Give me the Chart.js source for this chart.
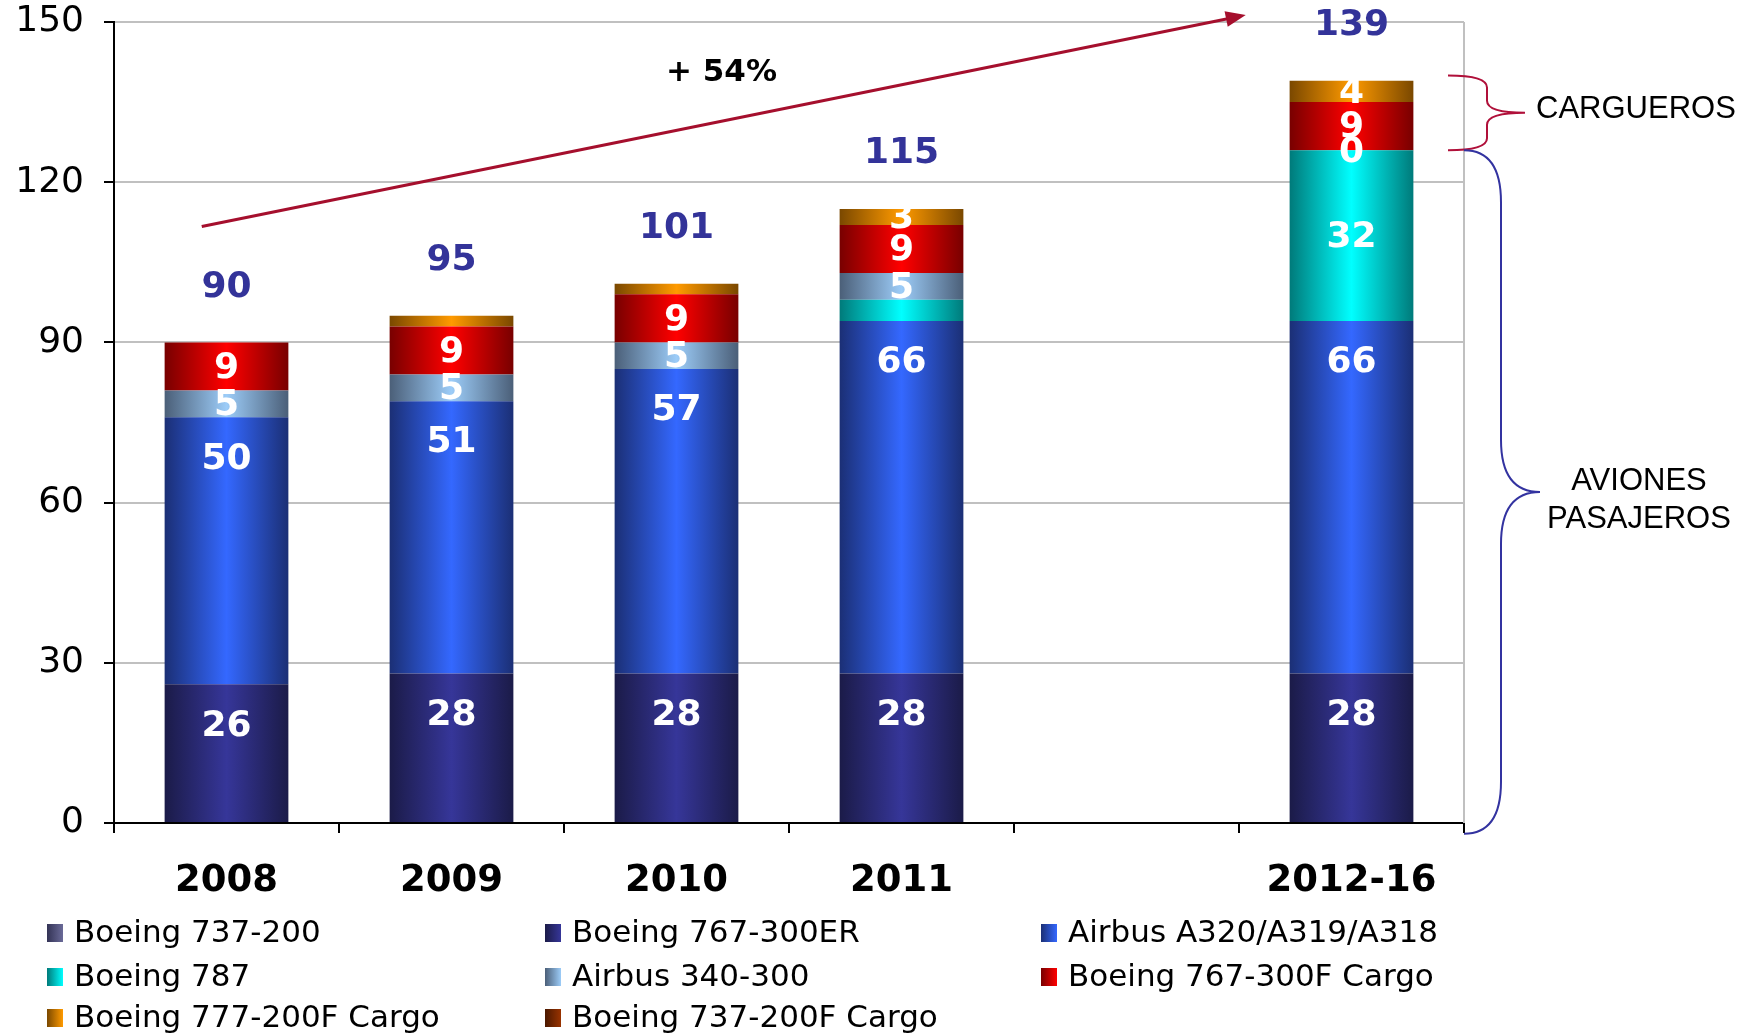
<!DOCTYPE html>
<html>
<head>
<meta charset="utf-8">
<script src="https://cdn.jsdelivr.net/npm/chart.js@4.4.0/dist/chart.umd.min.js"></script>
<style>
html, body { margin: 0; padding: 0; background: #fff; }
#wrap { width: 1755px; height: 1035px; }
</style>
</head>
<body>
<div id="wrap"><canvas id="myChart" width="1755" height="1035"></canvas></div>
<script>
// categorías (la quinta está vacía para dejar el hueco antes de 2012-16)
const categories = ['2008', '2009', '2010', '2011', '', '2012-16'];

// aviones por tipo
const b737_200 = [0, 0, 0, 0, null, 0];
const b767_300er = [26, 28, 28, 28, null, 28];
const a320 = [50, 51, 57, 66, null, 66];
const b787 = [0, 0, 0, 4, null, 32];
const a340 = [5, 5, 5, 5, null, 0];
const b767f = [9, 9, 9, 9, null, 9];
const b777f = [0, 2, 2, 3, null, 4];
const b737f = [0, 0, 0, 0, null, 0];

const yTicks = [0, 30, 60, 90, 120, 150];
const growthText = '+ 54%';

// degradado horizontal: oscuro en los bordes, claro en el centro
function barGradient(edge, mid) {
    return function (c) {
        const chart = c.chart;
        const area = chart.chartArea;
        if (!area || c.type !== 'data') return mid;
        const x = chart.scales.x.getPixelForValue(c.dataIndex);
        const half = (area.right - area.left) / categories.length * 0.55 / 2;
        const g = chart.ctx.createLinearGradient(x - half, 0, x + half, 0);
        g.addColorStop(0, edge);
        g.addColorStop(0.5, mid);
        g.addColorStop(1, edge);
        return g;
    };
}

function makeSet(label, data, edge, mid, showIf, anchor) {
    return {
        label, data,
        backgroundColor: barGradient(edge, mid),
        edgeColor: edge, midColor: mid,
        showIf, anchor,
        borderWidth: 0
    };
}

const datasets = [
    makeSet('Boeing 737-200', b737_200, '#333355', '#6a6a98', v => false, 'center'),
    makeSet('Boeing 767-300ER', b767_300er, '#1b1b48', '#363699', v => v >= 3, 'top'),
    makeSet('Airbus A320/A319/A318', a320, '#1b2f75', '#3468ff', v => v >= 3, 'top'),
    makeSet('Boeing 787', b787, '#007a7a', '#00ffff', v => v >= 10, 'center'),
    makeSet('Airbus 340-300', a340, '#4b5f78', '#9cccf8', v => v !== null, 'center'),
    makeSet('Boeing 767-300F Cargo', b767f, '#780000', '#ff0000', v => v >= 3, 'center'),
    makeSet('Boeing 777-200F Cargo', b777f, '#7a4800', '#ff9a00', v => v >= 3, 'center'),
    makeSet('Boeing 737-200F Cargo', b737f, '#4a1800', '#993300', v => false, 'center')
];

function drawBrace(ctx, xEnd, yTop, yBot, xSpine, xTip, r, color) {
    const yTip = (yTop + yBot) / 2;
    ctx.save();
    ctx.strokeStyle = color;
    ctx.lineWidth = 2;
    ctx.beginPath();
    ctx.moveTo(xEnd, yTop);
    ctx.quadraticCurveTo(xSpine, yTop, xSpine, yTop + r);
    ctx.lineTo(xSpine, yTip - r);
    ctx.quadraticCurveTo(xSpine, yTip, xTip, yTip);
    ctx.moveTo(xTip, yTip);
    ctx.quadraticCurveTo(xSpine, yTip, xSpine, yTip + r);
    ctx.lineTo(xSpine, yBot - r);
    ctx.quadraticCurveTo(xSpine, yBot, xEnd, yBot);
    ctx.stroke();
    ctx.restore();
}

const extras = {
    id: 'extras',
    beforeDatasetsDraw(chart) {
        const { ctx, chartArea } = chart;
        // borde derecho gris del área
        ctx.save();
        ctx.strokeStyle = '#c0c0c0';
        ctx.lineWidth = 2;
        ctx.beginPath();
        ctx.moveTo(chartArea.right, chartArea.top);
        ctx.lineTo(chartArea.right, chartArea.bottom);
        ctx.stroke();
        ctx.restore();
    },
    afterDatasetsDraw(chart) {
        const { ctx, chartArea } = chart;
        const xs = chart.scales.x, ys = chart.scales.y;

        // valores dentro de las barras
        ctx.save();
        ctx.fillStyle = '#fff';
        ctx.font = 'bold 36px "DejaVu Sans"';
        ctx.textAlign = 'center';
        ctx.textBaseline = 'middle';
        chart.data.datasets.forEach((ds, i) => {
            chart.getDatasetMeta(i).data.forEach((bar, j) => {
                const v = ds.data[j];
                if (v === null || !ds.showIf(v)) return;
                let y = (bar.y + bar.base) / 2;
                if (ds.anchor === 'top') y = Math.min(y, bar.y + 40);
                ctx.fillText(String(v), bar.x, y + 2);
            });
        });

        // totales encima de cada barra
        ctx.fillStyle = '#333399';
        categories.forEach((c, j) => {
            let sum = 0, any = false;
            chart.data.datasets.forEach(ds => {
                if (ds.data[j] !== null) { sum += ds.data[j]; any = true; }
            });
            if (!any) return;
            ctx.fillText(String(sum), xs.getPixelForValue(j), ys.getPixelForValue(sum) - 55);
        });
        ctx.restore();

        // flecha de crecimiento
        const x0 = xs.getPixelForValue(-0.11), y0 = ys.getPixelForValue(111.7);
        const x1 = xs.getPixelForValue(4.53), y1 = ys.getPixelForValue(151.3);
        const ang = Math.atan2(y1 - y0, x1 - x0);
        ctx.save();
        ctx.strokeStyle = '#a50f2d';
        ctx.fillStyle = '#a50f2d';
        ctx.lineWidth = 3;
        ctx.beginPath();
        ctx.moveTo(x0, y0);
        ctx.lineTo(x1 - 16 * Math.cos(ang), y1 - 16 * Math.sin(ang));
        ctx.stroke();
        ctx.beginPath();
        ctx.moveTo(x1, y1);
        ctx.lineTo(x1 - 20 * Math.cos(ang) + 8 * Math.sin(ang), y1 - 20 * Math.sin(ang) - 8 * Math.cos(ang));
        ctx.lineTo(x1 - 20 * Math.cos(ang) - 8 * Math.sin(ang), y1 - 20 * Math.sin(ang) + 8 * Math.cos(ang));
        ctx.closePath();
        ctx.fill();
        ctx.fillStyle = '#000';
        ctx.font = 'bold 31px "DejaVu Sans"';
        ctx.textAlign = 'center';
        ctx.textBaseline = 'middle';
        ctx.fillText(growthText, xs.getPixelForValue(2.2), ys.getPixelForValue(140.4));
        ctx.restore();

        // llaves de la derecha
        const right = chartArea.right;
        const yCargoTop = ys.getPixelForValue(140), yCargoBot = ys.getPixelForValue(126);
        drawBrace(ctx, right - 16, yCargoTop, yCargoBot, right + 23, right + 61, 12, '#b0103a');
        drawBrace(ctx, right, yCargoBot, ys.getPixelForValue(-2), right + 37, right + 76, 52, '#3333a0');

        ctx.save();
        ctx.fillStyle = '#000';
        ctx.font = '31px "Liberation Sans"';
        ctx.textAlign = 'left';
        ctx.textBaseline = 'middle';
        ctx.fillText('CARGUEROS', right + 72, (yCargoTop + yCargoBot) / 2 - 3);
        ctx.textAlign = 'center';
        const yMid = (yCargoBot + ys.getPixelForValue(-2)) / 2;
        ctx.fillText('AVIONES', right + 175, yMid - 10);
        ctx.fillText('PASAJEROS', right + 175, yMid + 28);
        ctx.restore();

        // leyenda en tres columnas
        const cols = [47, 545, 1041];
        const rows = [933, 977, 1018];
        ctx.save();
        ctx.font = '31px "DejaVu Sans"';
        ctx.textAlign = 'left';
        ctx.textBaseline = 'middle';
        chart.data.datasets.forEach((ds, i) => {
            const x = cols[i % 3], y = rows[Math.floor(i / 3)];
            const g = ctx.createLinearGradient(x, 0, x + 16, 0);
            g.addColorStop(0, ds.edgeColor);
            g.addColorStop(1, ds.midColor);
            ctx.fillStyle = g;
            ctx.fillRect(x, y - 9, 16, 18);
            ctx.fillStyle = '#000';
            ctx.fillText(ds.label, x + 27, y + 1);
        });
        ctx.restore();
    }
};

const ctx = document.querySelector('#myChart').getContext('2d');
const chart = new Chart(ctx, {
    type: 'bar',
    data: { labels: categories, datasets },
    options: {
        responsive: false,
        animation: false,
        layout: { padding: { left: 0, top: 22, right: 291, bottom: 0 } },
        datasets: { bar: { categoryPercentage: 1, barPercentage: 0.55 } },
        scales: {
            x: {
                stacked: true,
                grid: { offset: true, drawOnChartArea: false, color: '#000', tickLength: 10, lineWidth: 2 },
                border: { color: '#000', width: 2 },
                ticks: { color: '#000', font: { family: 'DejaVu Sans', size: 37, weight: 'bold' }, padding: 26, maxRotation: 0 },
                afterFit: s => { s.height = 212; s.paddingLeft = 0; s.paddingRight = 0; }
            },
            y: {
                stacked: true,
                min: 0, max: 150,
                afterBuildTicks: s => { s.ticks = yTicks.map(v => ({ value: v })); },
                grid: { color: '#c0c0c0', tickColor: '#000', tickLength: 10, lineWidth: 2 },
                border: { color: '#000', width: 2 },
                ticks: { color: '#000', font: { family: 'DejaVu Sans', size: 36 }, padding: 20 },
                afterFit: s => { s.width = 114; s.paddingTop = 0; s.paddingBottom = 0; }
            }
        },
        plugins: {
            legend: { display: false },
            tooltip: { enabled: false }
        }
    },
    plugins: [extras]
});
</script>
</body>
</html>
